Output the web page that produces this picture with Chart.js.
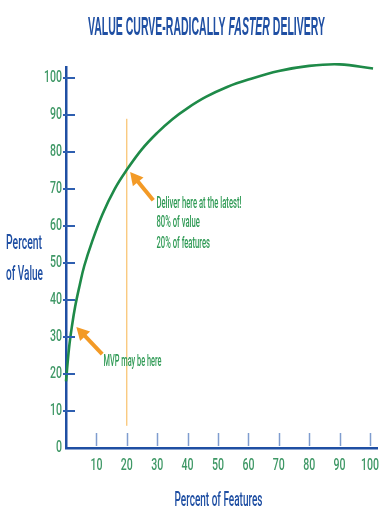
<!DOCTYPE html>
<html>
<head>
<meta charset="utf-8">
<script src="https://cdn.jsdelivr.net/npm/chart.js@4/dist/chart.umd.min.js"></script>
<style>
  html, body { margin: 0; padding: 0; background: #fff; }
  #wrap { width: 392px; height: 525px; }
</style>
</head>
<body>
<div id="wrap"><canvas id="chart" width="392" height="525"></canvas></div>
<script>
// ---- Data ----
const featurePct = [0, 1, 2, 3, 4.5, 6, 8.5, 12, 16, 20, 25, 30, 35, 40, 46, 53, 60, 70, 80, 90, 101];
const valuePct   = [18, 27, 33.2, 38.2, 44, 49.2, 55.6, 63.2, 70, 75.2, 80.8, 85.2, 88.9, 91.9, 94.9, 97.6, 99.6, 101.9, 103.3, 103.7, 102.6];
const deliverX = [20, 20];
const deliverY = [6, 89];
const xTicks = [10, 20, 30, 40, 50, 60, 70, 80, 90, 100];
const yTicks = [0, 10, 20, 30, 40, 50, 60, 70, 80, 90, 100];

const BLUE = '#1f4fa3';
const GREEN = '#1e8a48';
const LABEL_GREEN = '#3f9866';
const NOTE_GREEN = '#2f9a55';
const ORANGE = '#f39a26';
const FACE = 'Roboto, "Liberation Sans", sans-serif';

// the original uses a condensed face, so squeeze text horizontally
function narrowText(ctx, text, x, y, sx, font, color, align, baseline) {
  ctx.save();
  ctx.font = font;
  ctx.fillStyle = color;
  ctx.textBaseline = baseline || 'alphabetic';
  ctx.textAlign = align || 'left';
  ctx.translate(x, y);
  ctx.scale(sx, 1);
  ctx.fillText(text, 0, 0);
  ctx.restore();
}

function fitScale(ctx, text, font, width) {
  ctx.save();
  ctx.font = font;
  const w = ctx.measureText(text).width;
  ctx.restore();
  return width / w;
}

function arrow(ctx, x0, y0, x1, y1) {
  const ang = Math.atan2(y1 - y0, x1 - x0);
  const head = 12;
  ctx.save();
  ctx.strokeStyle = ORANGE;
  ctx.fillStyle = ORANGE;
  ctx.lineWidth = 4;
  ctx.beginPath();
  ctx.moveTo(x0, y0);
  ctx.lineTo(x1 - Math.cos(ang) * head * 0.8, y1 - Math.sin(ang) * head * 0.8);
  ctx.stroke();
  ctx.beginPath();
  ctx.moveTo(x1, y1);
  ctx.lineTo(x1 - Math.cos(ang - 0.5) * head * 1.2, y1 - Math.sin(ang - 0.5) * head * 1.2);
  ctx.lineTo(x1 - Math.cos(ang + 0.5) * head * 1.2, y1 - Math.sin(ang + 0.5) * head * 1.2);
  ctx.closePath();
  ctx.fill();
  ctx.restore();
}

const decor = {
  id: 'decor',
  afterDraw(chart) {
    const ctx = chart.ctx;
    const xs = chart.scales.x, ys = chart.scales.y;
    const area = chart.chartArea;

    // tick marks
    ctx.save();
    ctx.strokeStyle = '#7f9ccf';
    ctx.lineWidth = 1.5;
    xs.ticks.forEach(t => {
      const px = Math.round(xs.getPixelForValue(t.value)) + 0.5;
      ctx.beginPath();
      ctx.moveTo(px, area.bottom - 15);
      ctx.lineTo(px, area.bottom - 2);
      ctx.stroke();
    });
    ctx.strokeStyle = '#2e5fb0';
    ctx.lineWidth = 2;
    ys.ticks.forEach(t => {
      if (t.value === 0) return;
      const py = Math.round(ys.getPixelForValue(t.value));
      ctx.beginPath();
      ctx.moveTo(area.left - 3, py);
      ctx.lineTo(area.left + 9, py);
      ctx.stroke();
    });
    ctx.restore();

    // tick labels, condensed
    const tf = '500 16px ' + FACE;
    ys.ticks.forEach(t => {
      narrowText(ctx, String(t.value), area.left - 4, ys.getPixelForValue(t.value), 0.66, tf, LABEL_GREEN, 'right', 'middle');
    });
    xs.ticks.forEach(t => {
      narrowText(ctx, String(t.value), xs.getPixelForValue(t.value), 470, 0.66, tf, LABEL_GREEN, 'center');
    });

    // arrows
    arrow(ctx, xs.getPixelForValue(28.7), ys.getPixelForValue(67), xs.getPixelForValue(21.1), ys.getPixelForValue(74.6));
    arrow(ctx, xs.getPixelForValue(11.9), ys.getPixelForValue(25.4), xs.getPixelForValue(3.4), ys.getPixelForValue(32.7));

    // title
    const parts = [
      ['VALUE CURVE-RADICALLY ', 'bold 26px "Liberation Sans", sans-serif'],
      ['FASTER', 'italic bold 26px "Liberation Sans", sans-serif'],
      [' DELIVERY', 'bold 26px "Liberation Sans", sans-serif']
    ];
    ctx.save();
    let total = 0;
    const widths = parts.map(p => { ctx.font = p[1]; const w = ctx.measureText(p[0]).width; total += w; return w; });
    ctx.translate(88, 35);
    ctx.scale(237 / total, 1);
    ctx.fillStyle = BLUE;
    ctx.textBaseline = 'alphabetic';
    ctx.textAlign = 'left';
    let cx = 0;
    parts.forEach((p, i) => { ctx.font = p[1]; ctx.fillText(p[0], cx, 0); cx += widths[i]; });
    ctx.restore();

    // axis titles
    const atf = '500 21px ' + FACE;
    narrowText(ctx, 'Percent of Features', 218.5, 506, fitScale(ctx, 'Percent of Features', atf, 88), atf, BLUE, 'center');
    narrowText(ctx, 'Percent', 6, 249, fitScale(ctx, 'Percent', atf, 36), atf, BLUE);
    narrowText(ctx, 'of Value', 6, 280, fitScale(ctx, 'of Value', atf, 37), atf, BLUE);

    // annotations
    const af = '500 17px ' + FACE;
    const sx = fitScale(ctx, 'Deliver here at the latest!', af, 85);
    narrowText(ctx, 'Deliver here at the latest!', 156.5, 207.5, sx, af, NOTE_GREEN);
    narrowText(ctx, '80% of value', 156.5, 227, sx, af, NOTE_GREEN);
    narrowText(ctx, '20% of features', 156.5, 247.5, sx, af, NOTE_GREEN);
    const mf = '500 16px ' + FACE;
    narrowText(ctx, 'MVP may be here', 103.5, 366, fitScale(ctx, 'MVP may be here', mf, 58), mf, NOTE_GREEN);
  }
};

new Chart(document.getElementById('chart'), {
  type: 'line',
  data: {
    datasets: [
      {
        data: featurePct.map((x, i) => ({ x, y: valuePct[i] })),
        borderColor: GREEN,
        borderWidth: 2.6,
        pointRadius: 0,
        tension: 0.4,
        clip: false
      },
      {
        data: deliverX.map((x, i) => ({ x, y: deliverY[i] })),
        borderColor: '#f7b44e',
        borderWidth: 1,
        pointRadius: 0
      }
    ]
  },
  options: {
    responsive: false,
    animation: false,
    layout: { padding: { top: 67, right: 15, left: 0, bottom: 0 } },
    plugins: { legend: { display: false }, tooltip: { enabled: false } },
    scales: {
      x: {
        type: 'linear',
        min: 0,
        max: 102.3,
        afterBuildTicks: s => { s.ticks = xTicks.map(v => ({ value: v })); },
        afterFit: s => { s.height = 77; },
        grid: { display: false, drawTicks: false },
        border: { display: true, color: BLUE, width: 2.5 },
        ticks: { display: false }
      },
      y: {
        type: 'linear',
        min: 0,
        max: 103,
        afterBuildTicks: s => { s.ticks = yTicks.map(v => ({ value: v })); },
        afterFit: s => { s.width = 66; },
        grid: { display: false, drawTicks: false },
        border: { display: true, color: BLUE, width: 2.5 },
        ticks: { display: false }
      }
    }
  },
  plugins: [decor]
});
</script>
</body>
</html>
